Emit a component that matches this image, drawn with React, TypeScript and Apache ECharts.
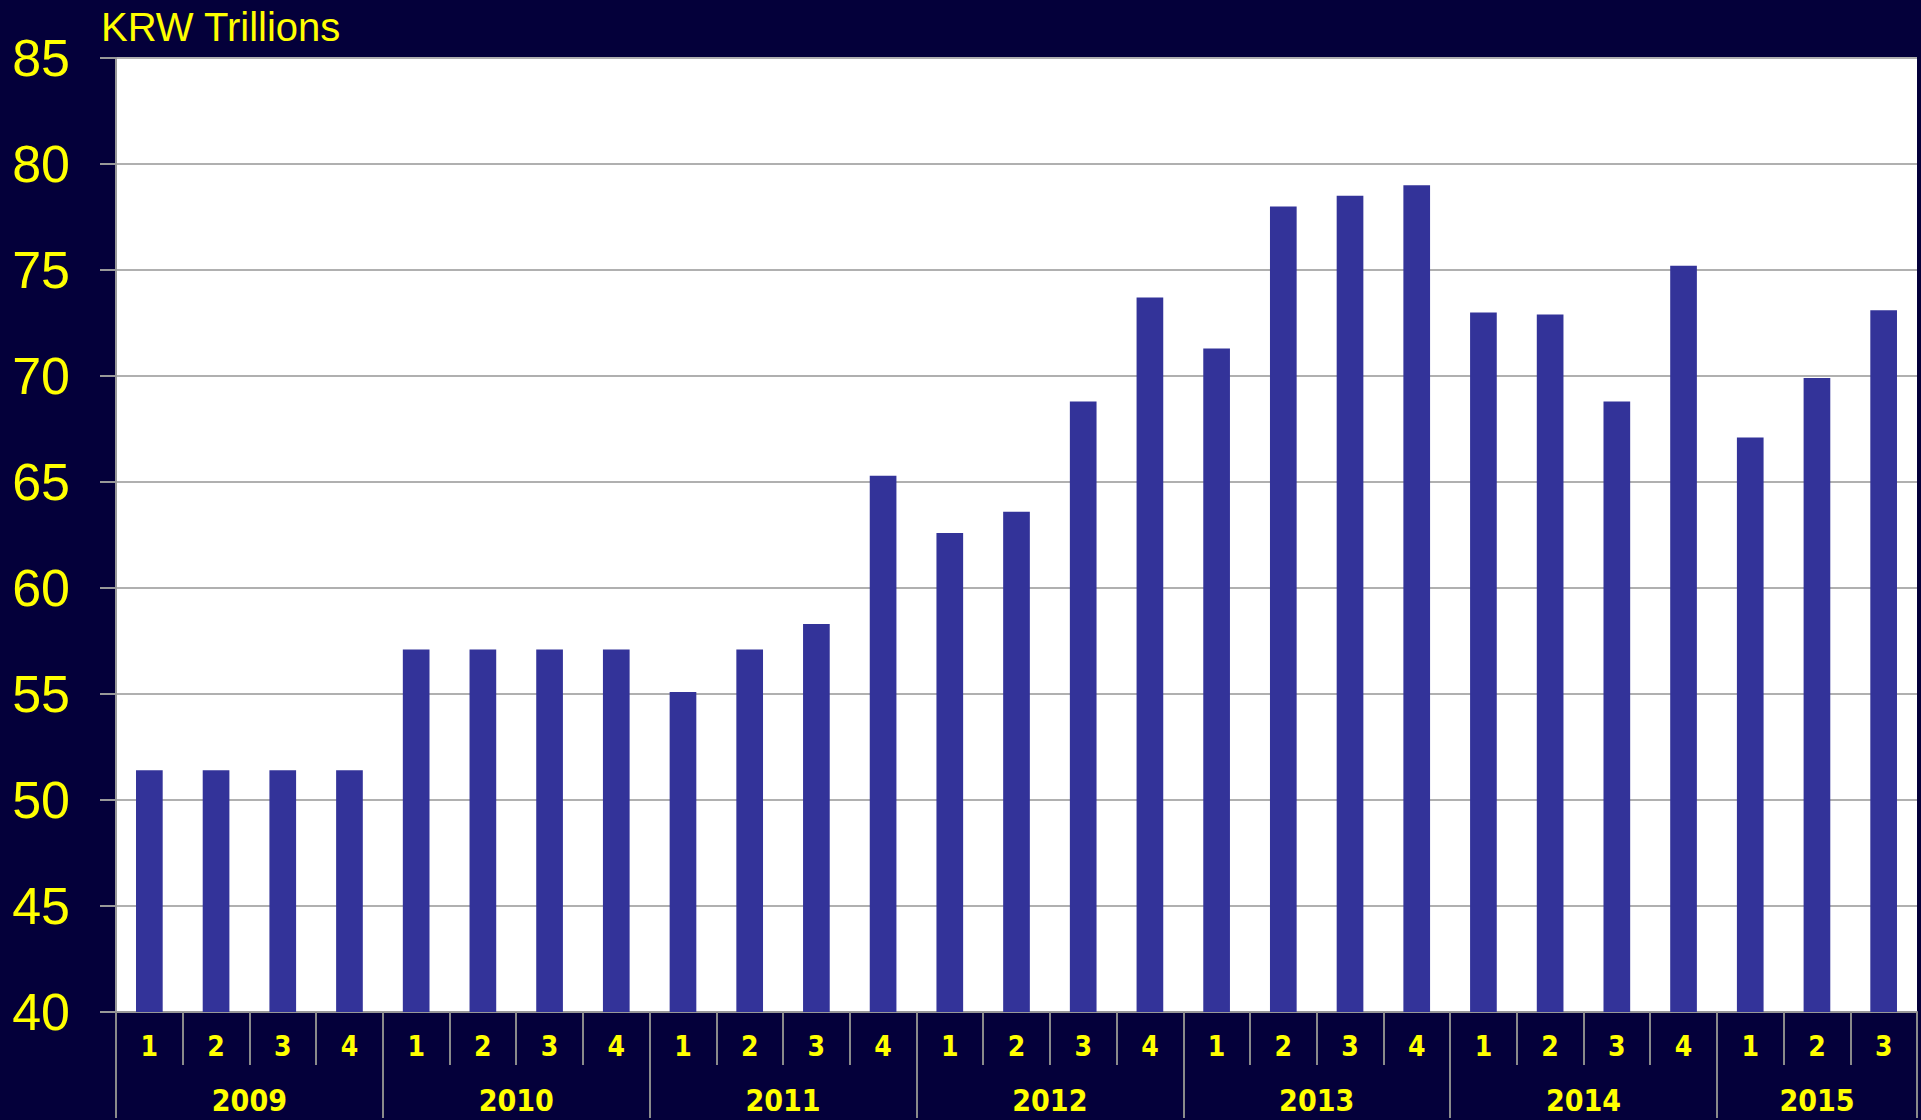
import React, { useEffect, useRef } from "react";
import * as echarts from "echarts";

const quarters = [
  "1", "2", "3", "4",
  "1", "2", "3", "4",
  "1", "2", "3", "4",
  "1", "2", "3", "4",
  "1", "2", "3", "4",
  "1", "2", "3", "4",
  "1", "2", "3",
];
const years = ["2009", "2010", "2011", "2012", "2013", "2014", "2015"];
const quartersPerYear = [4, 4, 4, 4, 4, 4, 3];
const values = [
  51.4, 51.4, 51.4, 51.4,
  57.1, 57.1, 57.1, 57.1,
  55.1, 57.1, 58.3, 65.3,
  62.6, 63.6, 68.8, 73.7,
  71.3, 78.0, 78.5, 79.0,
  73.0, 72.9, 68.8, 75.2,
  67.1, 69.9, 73.1,
];
const yTicks = { min: 40, max: 85, interval: 5 };
const unitLabel = "KRW Trillions";

const YELLOW = "#FFFF00";
const BG = "#04003A";
const NARROW = "'Liberation Sans Narrow', 'Arial Narrow', 'DejaVu Sans Condensed', sans-serif";

export default function App() {
  const ref = useRef<HTMLDivElement>(null);

  useEffect(() => {
    if (!ref.current) return;
    const chart = echarts.init(ref.current, undefined, { renderer: "svg" });

    // Half-quarter slots for year axis (centers and boundaries)
    const n = quarters.length;
    const yearSlots: string[] = new Array(2 * n + 1).fill("");
    const boundaries = new Set<number>();
    let start = 0;
    years.forEach((y, i) => {
      const c = quartersPerYear[i];
      boundaries.add(2 * start);
      yearSlots[2 * start + c] = y;
      start += c;
    });
    boundaries.add(2 * start);

    chart.setOption({
      animation: false,
      backgroundColor: BG,
      title: {
        text: unitLabel,
        left: 96,
        top: 2,
        textStyle: {
          color: YELLOW,
          fontSize: 40,
          fontWeight: "normal",
          fontFamily: "'Liberation Sans', Arial, sans-serif",
        },
      },
      grid: {
        left: 116,
        right: 4,
        top: 58,
        bottom: 108,
        show: true,
        backgroundColor: "#FFFFFF",
        borderWidth: 0,
      },
      xAxis: [
        {
          type: "category",
          data: quarters,
          boundaryGap: true,
          axisLine: { show: true, lineStyle: { color: "#999999", width: 2 } },
          axisTick: {
            show: true,
            interval: 0,
            length: 53,
            lineStyle: { color: "#8a8a8a", width: 2 },
          },
          axisLabel: {
            interval: 0,
            color: YELLOW,
            fontSize: 28,
            fontWeight: "bold",
            fontFamily: NARROW,
            margin: 20,
          },
          splitLine: { show: false },
        },
        {
          type: "category",
          position: "bottom",
          data: yearSlots,
          boundaryGap: false,
          axisLine: { show: false },
          axisTick: {
            show: true,
            interval: (index: number) => boundaries.has(index),
            length: 106,
            lineStyle: { color: "#8a8a8a", width: 2 },
          },
          axisLabel: {
            interval: 0,
            color: YELLOW,
            fontSize: 30,
            fontWeight: "bold",
            fontFamily: NARROW,
            margin: 73,
            hideOverlap: false,
          },
          splitLine: { show: false },
        },
      ],
      yAxis: {
        type: "value",
        min: yTicks.min,
        max: yTicks.max,
        interval: yTicks.interval,
        axisLine: { show: true, lineStyle: { color: "#999999", width: 2 } },
        axisTick: { show: true, length: 16, lineStyle: { color: "#999999", width: 2 } },
        axisLabel: {
          color: YELLOW,
          fontSize: 52,
          fontFamily: "'Liberation Sans', Arial, sans-serif",
          margin: 46,
        },
        splitLine: { show: true, lineStyle: { color: "#B0B0B0", width: 2 } },
      },
      series: [
        {
          type: "bar",
          xAxisIndex: 0,
          data: values,
          barWidth: "40%",
          itemStyle: { color: "#333399" },
        },
      ],
    });

    return () => chart.dispose();
  }, []);

  return (
    <div
      ref={ref}
      style={{ position: "absolute", left: 0, top: 0, width: 1921, height: 1120 }}
    />
  );
}
